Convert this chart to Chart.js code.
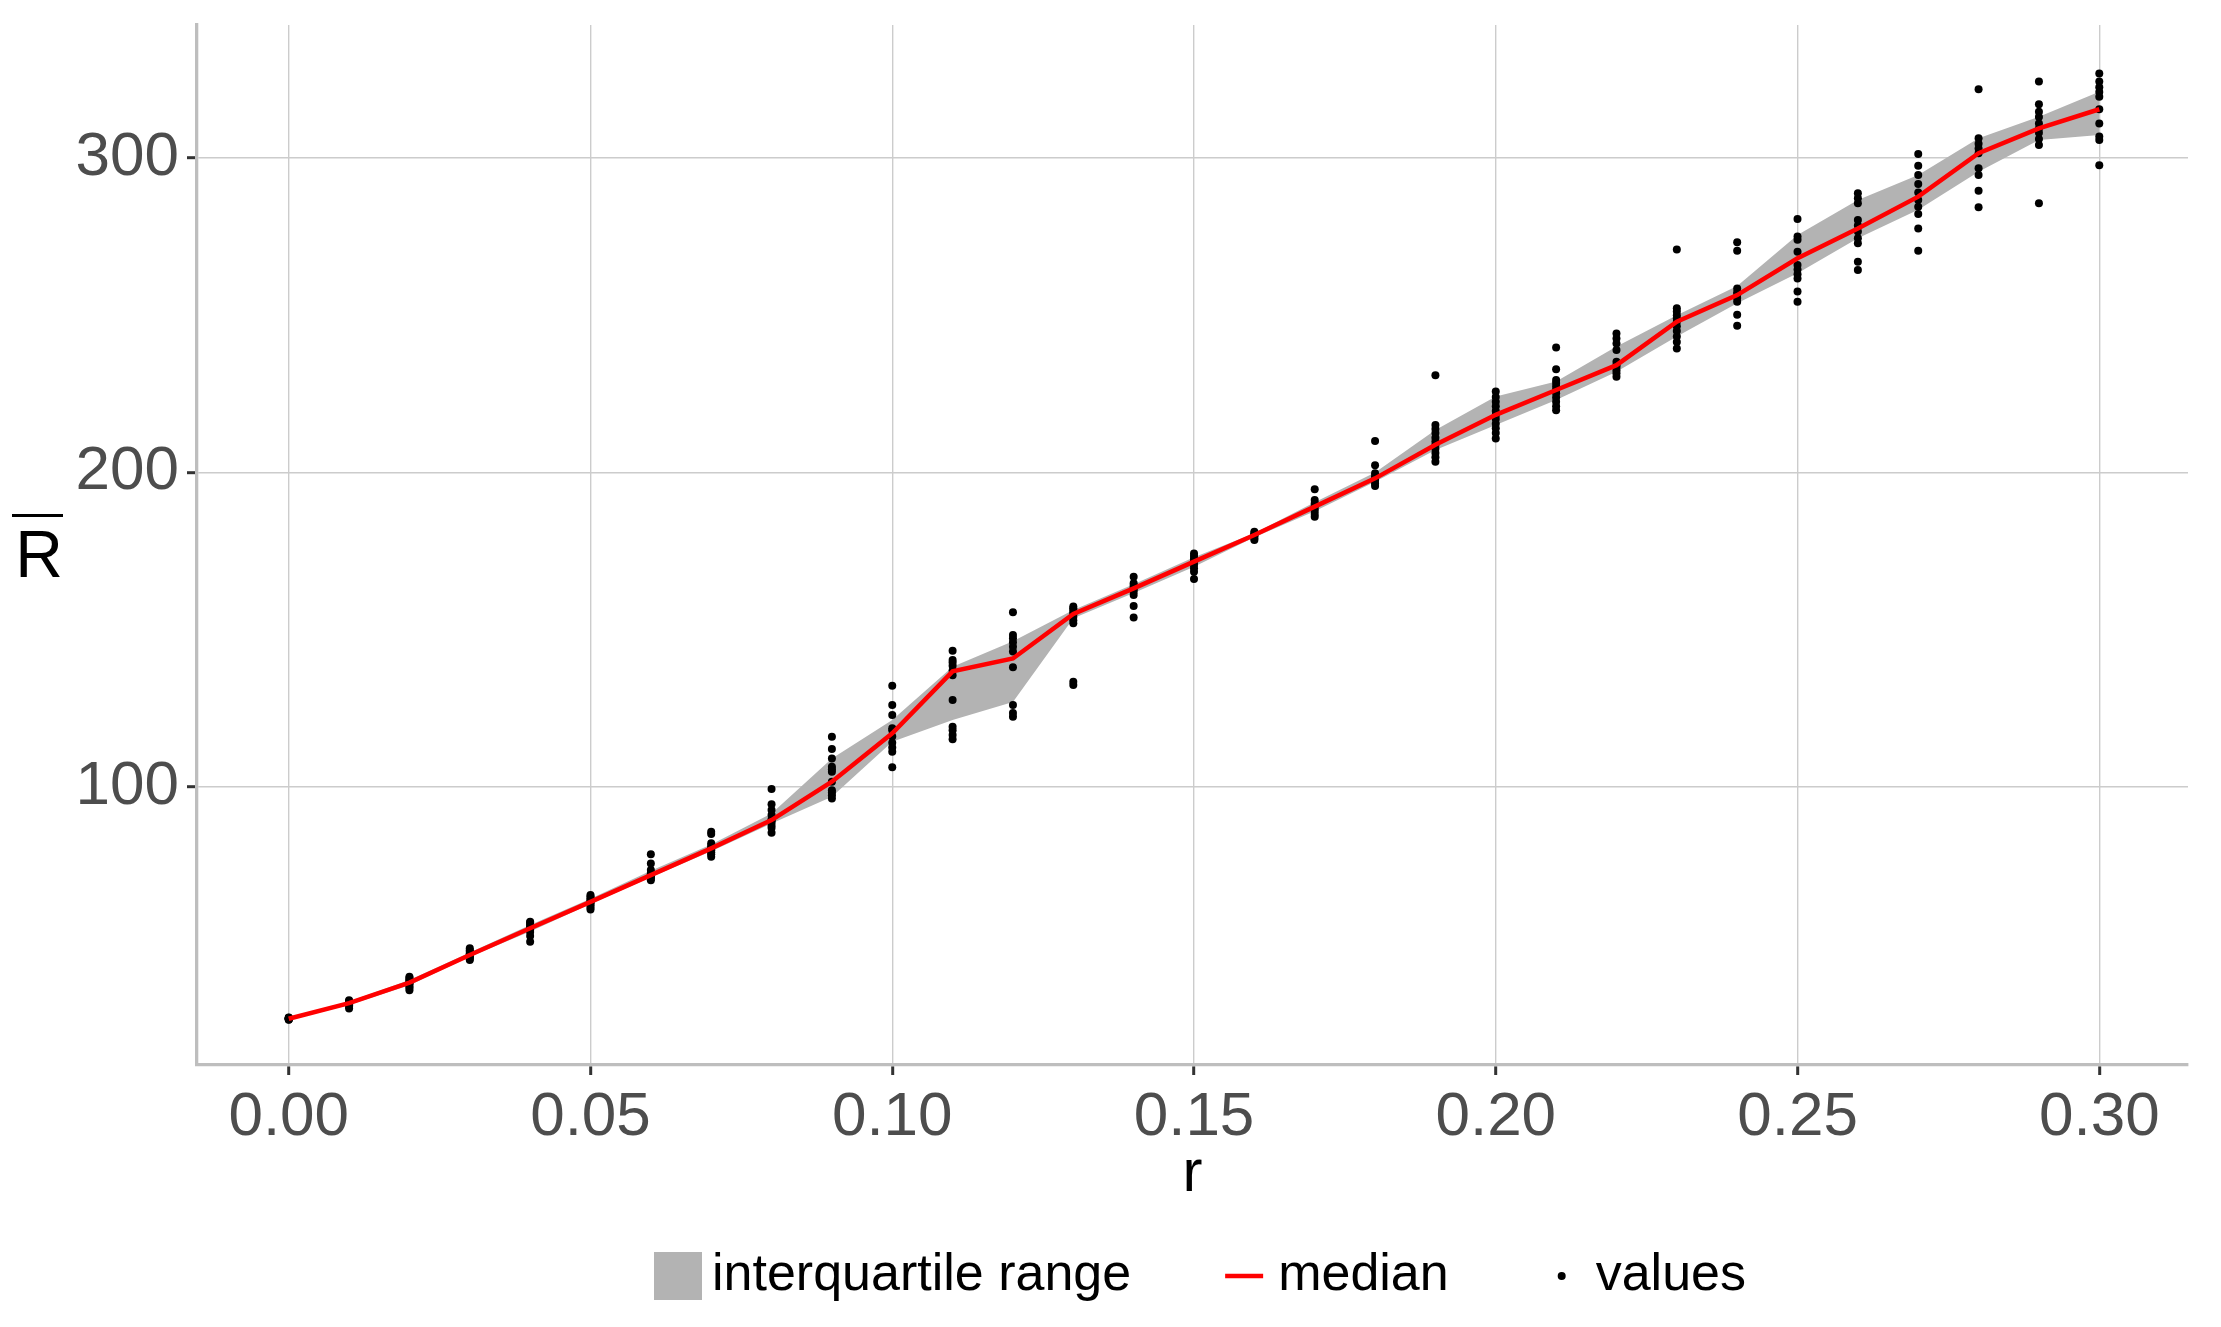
<!DOCTYPE html>
<html>
<head>
<meta charset="utf-8">
<script src="https://cdn.jsdelivr.net/npm/chart.js@4.4.1/dist/chart.umd.min.js"></script>
<style>
  html, body { margin: 0; padding: 0; background: #fff; }
  #wrap { width: 2221px; height: 1327px; }
</style>
</head>
<body>
<div id="wrap"><canvas id="chart"></canvas></div>
<script>
// r values (x axis)
const rValues = [0.00, 0.01, 0.02, 0.03, 0.04, 0.05, 0.06, 0.07, 0.08, 0.09, 0.10,
                 0.11, 0.12, 0.13, 0.14, 0.15, 0.16, 0.17, 0.18, 0.19, 0.20,
                 0.21, 0.22, 0.23, 0.24, 0.25, 0.26, 0.27, 0.28, 0.29, 0.30];

// median, lower and upper quartile of R-bar for each r
const medianR = [26.2, 31.2, 37.7, 46.5, 55.0, 63.4, 71.9, 80.4, 89.4, 101.6, 117.0,
                 136.7, 140.8, 155.0, 163.1, 171.6, 180.1, 189.1, 198.1, 208.8, 218.3,
                 226.2, 234.1, 247.9, 256.4, 268.1, 277.6, 287.7, 301.5, 309.4, 315.5];
const q1R = [25.8, 30.6, 36.9, 45.9, 54.0, 62.7, 71.2, 79.5, 88.3, 96.8, 114.3,
             121.2, 127.0, 153.6, 161.6, 170.0, 179.4, 187.6, 197.0, 207.1, 215.1,
             223.0, 232.0, 243.2, 253.8, 263.3, 274.5, 283.5, 295.6, 305.7, 307.3];
const q3R = [26.6, 31.7, 38.5, 47.3, 56.0, 64.4, 73.3, 81.6, 91.5, 109.0, 121.2,
             138.2, 146.3, 156.2, 164.4, 173.0, 180.6, 190.5, 200.0, 213.5, 224.1,
             228.9, 240.0, 250.0, 259.3, 275.5, 286.6, 294.6, 306.3, 313.1, 321.1];

// individual values for each r
const runValues = [
  [25.9, 26.0, 26.1, 26.2, 26.2, 26.3, 26.3, 26.4, 26.5, 26.6],
  [29.5, 30.0, 30.5, 30.8, 31.0, 31.3, 31.5, 31.8, 32.1, 31.1],
  [35.3, 36.0, 36.5, 37.2, 37.5, 37.9, 38.3, 38.8, 39.2, 39.6],
  [44.9, 45.3, 45.8, 46.2, 46.4, 46.7, 47.0, 47.5, 48.0, 48.6],
  [50.7, 52.5, 53.8, 54.5, 54.9, 55.2, 55.7, 56.2, 56.8, 57.1],
  [61.0, 61.6, 62.3, 62.9, 63.3, 63.6, 64.0, 64.5, 65.1, 65.6],
  [70.3, 70.8, 71.2, 71.6, 71.9, 72.2, 72.6, 73.5, 75.6, 78.5],
  [77.7, 78.5, 79.2, 79.8, 80.2, 80.6, 81.2, 82.0, 85.0, 85.7],
  [85.4, 87.0, 87.8, 88.8, 89.2, 89.6, 91.0, 92.6, 94.4, 99.3],
  [96.3, 97.3, 98.2, 98.9, 101.6, 104.8, 105.6, 106.4, 109.0, 112.0, 115.9],
  [106.2, 111.1, 112.5, 114.0, 116.0, 118.0, 118.6, 122.8, 126.0, 132.1],
  [115.1, 116.5, 118.0, 119.1, 127.6, 135.5, 137.0, 138.5, 139.5, 140.3, 143.3],
  [122.3, 123.5, 126.0, 138.0, 143.0, 144.5, 146.0, 147.2, 148.3, 155.5],
  [132.4, 133.4, 152.0, 153.0, 154.0, 154.8, 155.5, 156.2, 156.8, 157.3],
  [153.8, 157.5, 161.0, 162.0, 162.8, 163.4, 164.0, 164.7, 166.8],
  [166.1, 168.4, 169.5, 170.5, 171.3, 171.9, 172.6, 173.4, 174.2],
  [178.5, 179.0, 179.6, 180.0, 180.2, 180.6, 181.1],
  [185.9, 186.8, 187.8, 188.7, 189.5, 190.2, 191.2, 194.6],
  [195.7, 196.5, 197.3, 198.1, 198.8, 199.7, 202.3, 210.0],
  [203.4, 204.8, 206.2, 207.5, 208.7, 209.8, 211.0, 212.5, 213.8, 215.1, 230.9],
  [210.8, 212.5, 214.0, 215.5, 217.0, 218.2, 219.5, 221.0, 222.5, 224.0, 225.7],
  [219.8, 221.0, 222.5, 223.8, 225.2, 226.2, 227.3, 228.4, 229.4, 232.8, 239.7],
  [230.4, 231.5, 232.5, 233.5, 234.1, 235.2, 238.9, 241.0, 242.6, 244.2],
  [239.4, 241.5, 243.2, 245.0, 246.5, 247.9, 249.0, 250.0, 251.2, 252.2, 270.9],
  [246.6, 250.1, 254.3, 255.5, 256.4, 257.3, 258.5, 270.5, 273.2],
  [254.3, 257.5, 261.7, 263.0, 264.5, 266.0, 270.2, 274.0, 275.0, 280.6],
  [264.4, 267.0, 272.9, 274.5, 276.6, 278.5, 280.3, 285.6, 287.2, 288.8],
  [270.5, 277.6, 282.2, 284.5, 286.6, 289.0, 291.7, 294.6, 297.5, 301.3],
  [284.3, 289.6, 294.6, 296.7, 301.5, 303.0, 304.5, 306.3, 321.9],
  [285.6, 304.1, 306.0, 308.0, 309.4, 311.0, 313.0, 314.7, 317.1, 324.3],
  [297.7, 305.7, 306.8, 311.0, 315.5, 319.5, 321.0, 322.5, 324.3, 326.9]
];

const xTicks = [0.00, 0.05, 0.10, 0.15, 0.20, 0.25, 0.30];
const yTicks = [100, 200, 300];

const toPoints = arr => arr.map((v, i) => ({ x: rValues[i], y: v }));
const valuePoints = [];
runValues.forEach((vals, i) => vals.forEach(v => valuePoints.push({ x: rValues[i], y: v })));

Chart.defaults.font.family = '"Liberation Sans", Arial, sans-serif';

const gridOpts = { color: '#cccccc', lineWidth: 1.4, tickColor: '#333333', tickLength: 10, tickWidth: 3 };
const borderOpts = { display: true, color: '#bebebe', width: 3.3 };

// y axis title (R with an overline) and the legend row under the plot
const decorations = {
  id: 'decorations',
  afterDraw(chart) {
    const { ctx, chartArea } = chart;
    const ds = chart.data.datasets;
    ctx.save();

    const cy = (chartArea.top + chartArea.bottom) / 2;
    ctx.fillStyle = '#000';
    ctx.font = '66px "Liberation Sans", Arial, sans-serif';
    ctx.textAlign = 'center';
    ctx.textBaseline = 'alphabetic';
    ctx.fillText('R', 39, cy + 32);
    ctx.fillRect(12, cy - 31, 51, 3);

    const items = [ds[1], ds[2], ds[3]];
    const key = 48, gapText = 10, gapItem = 89;
    ctx.font = '52px "Liberation Sans", Arial, sans-serif';
    ctx.textAlign = 'left';
    ctx.textBaseline = 'middle';
    let total = 0;
    items.forEach((d, i) => { total += key + gapText + ctx.measureText(d.label).width + (i ? gapItem : 0); });
    let x = 1200 - total / 2;
    const y = chart.height - 51;
    items.forEach(d => {
      if (d.fill) {
        ctx.fillStyle = d.backgroundColor;
        ctx.fillRect(x, y - key / 2, key, key);
      } else if (d.type === 'line') {
        ctx.strokeStyle = d.borderColor;
        ctx.lineWidth = d.borderWidth;
        ctx.beginPath();
        ctx.moveTo(x + 5, y);
        ctx.lineTo(x + key - 5, y);
        ctx.stroke();
      } else {
        ctx.fillStyle = d.backgroundColor;
        ctx.beginPath();
        ctx.arc(x + key / 2, y, d.pointRadius, 0, Math.PI * 2);
        ctx.fill();
      }
      ctx.fillStyle = '#000';
      ctx.fillText(d.label, x + key + gapText, y);
      x += key + gapText + ctx.measureText(d.label).width + gapItem;
    });
    ctx.restore();
  }
};

new Chart(document.getElementById('chart'), {
  type: 'scatter',
  data: {
    datasets: [
      {
        label: 'lower quartile',
        type: 'line',
        data: toPoints(q1R),
        borderColor: 'transparent',
        borderWidth: 0,
        pointRadius: 0,
        fill: false,
        order: 3
      },
      {
        label: 'interquartile range',
        type: 'line',
        data: toPoints(q3R),
        borderColor: 'transparent',
        borderWidth: 0,
        pointRadius: 0,
        backgroundColor: '#b3b3b3',
        fill: '-1',
        order: 2
      },
      {
        label: 'median',
        type: 'line',
        data: toPoints(medianR),
        borderColor: '#ff0000',
        borderWidth: 4.5,
        pointRadius: 0,
        fill: false,
        order: 0
      },
      {
        label: 'values',
        type: 'scatter',
        data: valuePoints,
        backgroundColor: '#000000',
        borderWidth: 0,
        pointRadius: 4,
        order: 1
      }
    ]
  },
  options: {
    responsive: true,
    maintainAspectRatio: false,
    animation: false,
    devicePixelRatio: 1,
    layout: { padding: { left: 76, right: 33, top: 25, bottom: 117 } },
    plugins: {
      legend: { display: false },
      tooltip: { enabled: false }
    },
    scales: {
      x: {
        type: 'linear',
        min: -0.0152,
        max: 0.3147,
        afterBuildTicks: s => { s.ticks = xTicks.map(v => ({ value: v })); },
        afterFit: s => { s.height = 145; s.paddingLeft = 0; s.paddingRight = 0; },
        ticks: {
          callback: v => v.toFixed(2),
          font: { size: 62 },
          color: '#4d4d4d',
          padding: 6,
          maxRotation: 0,
          autoSkip: false
        },
        grid: gridOpts,
        border: borderOpts,
        title: { display: true, text: 'r', font: { size: 60 }, color: '#000', padding: 0 }
      },
      y: {
        type: 'linear',
        min: 11.5,
        max: 342.3,
        afterBuildTicks: s => { s.ticks = yTicks.map(v => ({ value: v })); },
        afterFit: s => { s.width = 121; s.paddingTop = 0; s.paddingBottom = 0; },
        ticks: {
          font: { size: 62 },
          color: '#4d4d4d',
          padding: 8
        },
        grid: gridOpts,
        border: borderOpts
      }
    }
  },
  plugins: [decorations]
});
</script>
</body>
</html>
